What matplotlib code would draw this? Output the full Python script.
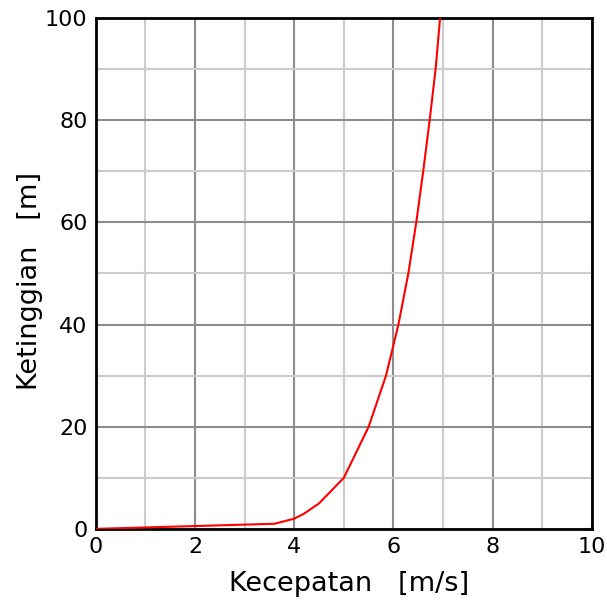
import matplotlib
matplotlib.use("Agg")
from matplotlib import pyplot as plt
from matplotlib.ticker import MultipleLocator

# Wind speed profile
kecepatan = [0.0, 3.6, 4.0, 4.2, 4.5, 5.0, 5.5, 5.85, 6.1, 6.3, 6.46, 6.6, 6.73, 6.85, 6.94]
ketinggian = [0, 1, 2, 3, 5, 10, 20, 30, 40, 50, 60, 70, 80, 90, 100]

TICK_FONTSIZE = 16
LABEL_FONTSIZE = 19.5

fig = plt.figure(figsize=(6.07, 6.01), dpi=100)
ax = fig.add_axes([0.158, 0.120, 0.817, 0.850])

ax.plot(kecepatan, ketinggian, color="#ff0000", lw=1.5, zorder=3)

ax.set_xlim(0, 10)
ax.set_ylim(0, 100)
ax.xaxis.set_major_locator(MultipleLocator(2))
ax.xaxis.set_minor_locator(MultipleLocator(1))
ax.yaxis.set_major_locator(MultipleLocator(20))
ax.yaxis.set_minor_locator(MultipleLocator(10))

ax.grid(which="major", color="#8c8c8c", lw=1.5)
ax.grid(which="minor", color="#cccccc", lw=1.5)
ax.set_axisbelow(True)

ax.tick_params(which="both", length=0, labelsize=TICK_FONTSIZE, pad=6)
for side in ax.spines.values():
    side.set_linewidth(2)
    side.set_color("black")

ax.set_xlabel("Kecepatan   [m/s]", fontsize=LABEL_FONTSIZE)
ax.set_ylabel("Ketinggian   [m]", fontsize=LABEL_FONTSIZE)
ax.xaxis.set_label_coords(0.511, -0.083)
ax.yaxis.set_label_coords(-0.107, 0.485)

fig.savefig("out.png", dpi=100)
